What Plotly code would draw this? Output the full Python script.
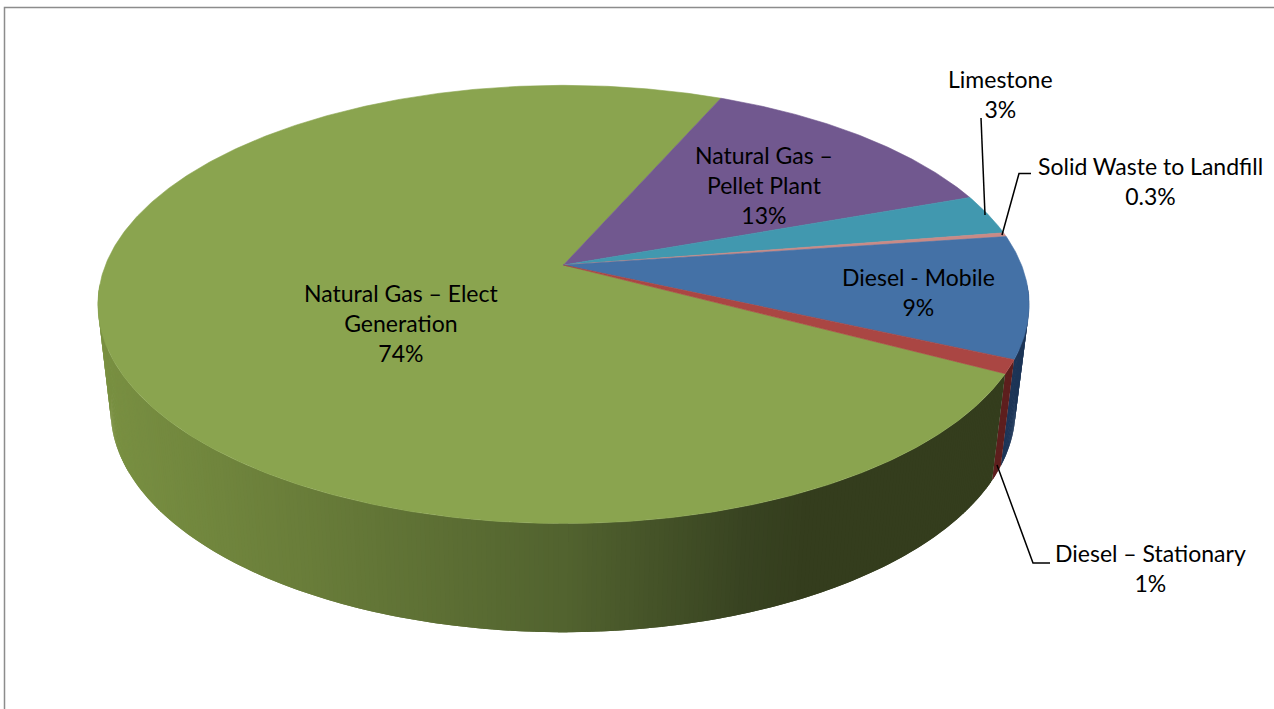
import math
import plotly.graph_objects as go

# ---- data ----
categories = ["Natural Gas – Elect<br>Generation", "Natural Gas –<br>Pellet Plant", "Limestone",
              "Solid Waste to Landfill", "Diesel - Mobile", "Diesel – Stationary"]
values = [74, 13, 3, 0.3, 9, 1]
value_labels = ["74%", "13%", "3%", "0.3%", "9%", "1%"]

# ---- styles ----
top_colors = ["#8AA44F", "#71588F", "#4198AF", "#C98A86", "#4471A6", "#AA4643"]
side_colors = [None, "#453560", "#275C6A", "#7A5250", "#1D3557", "#5E1F1E"]
green_stops = [(100, (122, 145, 66)), (300, (106, 126, 58)), (560, (82, 99, 47)),
               (740, (56, 67, 33)), (800, (52, 61, 29)), (1100, (52, 61, 29))]
FONT = "Lato"
FS = 23

# ---- perspective cylinder ----
START = 118.0         # first slice boundary, degrees clockwise from the back
K = 0.18
TOP = dict(x0=563.5, y0=265, A=458, B=212)
BOT = dict(x0=563, y0=370, A=445, B=215)


def project(deg, p):
    t = math.radians(deg)
    u, v = math.sin(t), -math.cos(t)
    w = 1 - K * v
    return p["x0"] + p["A"] * u / w, p["y0"] + p["B"] * v / w


def green_at(x):
    for (x1, c1), (x2, c2) in zip(green_stops, green_stops[1:]):
        if x <= x2:
            f = max(0, (x - x1) / (x2 - x1))
            return "rgb(%d,%d,%d)" % tuple(round(a + (b - a) * f) for a, b in zip(c1, c2))
    return "rgb(52,61,29)"


total = sum(values)
bounds = [START]
for val in values:
    bounds.append(bounds[-1] + val / total * 360)

fig = go.Figure()


def poly(xs, ys, color, width=0.6):
    fig.add_trace(go.Scatter(x=xs, y=ys, mode="lines", fill="toself", fillcolor=color,
                             line=dict(color=color, width=width), hoverinfo="skip", showlegend=False))


# sides, back to front; neighbouring quads overlap so no seams show
STEP = 0.5
quads = []
for i in range(len(values)):
    a0, a1 = bounds[i], bounds[i + 1]
    n = max(1, int((a1 - a0) / STEP))
    for j in range(n):
        s0 = a0 + (a1 - a0) * j / n
        s1 = a0 + (a1 - a0) * (j + 1) / n
        if max(project(s0, TOP)[1], project(s1, TOP)[1]) < 285:
            continue
        right_side = math.sin(math.radians(s0)) > 0
        e0 = max(s0 - (0 if right_side else STEP), a0)
        e1 = min(s1 + (STEP if right_side else 0), a1)
        p0, p1 = project(e0, TOP), project(e1, TOP)
        q0, q1 = project(e0, BOT), project(e1, BOT)
        quads.append((-math.cos(math.radians((s0 + s1) / 2)), i, p0, p1, q1, q0))
for _, i, p0, p1, q1, q0 in sorted(quads, key=lambda r: r[0]):
    color = side_colors[i] or green_at((q0[0] + q1[0]) / 2)
    poly([p0[0], p1[0], q1[0], q0[0], p0[0]], [p0[1], p1[1], q1[1], q0[1], p0[1]], color, width=0)

# top faces
for i in range(len(values)):
    a0, a1 = bounds[i], bounds[i + 1]
    n = max(2, int((a1 - a0) / 0.5))
    rim = [project(a0 + (a1 - a0) * j / n, TOP) for j in range(n + 1)]
    xs = [TOP["x0"]] + [r[0] for r in rim] + [TOP["x0"]]
    ys = [TOP["y0"]] + [r[1] for r in rim] + [TOP["y0"]]
    poly(xs, ys, top_colors[i])

# leader lines
leaders = [([981, 985], [118, 215]),
           ([1031, 1019, 1002], [173.5, 173.5, 235]),
           ([997, 1033, 1050], [465, 563, 563])]
for lx, ly in leaders:
    fig.add_trace(go.Scatter(x=lx, y=ly, mode="lines", line=dict(color="#000000", width=1.5),
                             hoverinfo="skip", showlegend=False))

# frame
fig.add_trace(go.Scatter(x=[4.5, 4.5, 1274], y=[709, 7.5, 7.5], mode="lines",
                         line=dict(color="#8C8C8C", width=1.5), hoverinfo="skip", showlegend=False))

# labels
label_pos = [(401, 322.5), (764, 185), (1000, 93.5), (1150, 180.5), (918, 291.5), (1150, 567.5)]
for cat, lab, (lx, ly) in zip(categories, value_labels, label_pos):
    fig.add_annotation(x=lx, y=ly, text=f"{cat}<br>{lab}", showarrow=False, align="center",
                       xanchor="center", yanchor="middle",
                       font=dict(family=FONT, size=FS, color="#000000"))

fig.update_layout(width=1274, height=709, margin=dict(l=0, r=0, t=0, b=0),
                  paper_bgcolor="white", plot_bgcolor="white", showlegend=False,
                  xaxis=dict(range=[0, 1274], visible=False, fixedrange=True),
                  yaxis=dict(range=[709, 0], visible=False, fixedrange=True))
fig.write_html("out.html", config=dict(displayModeBar=False),
               post_script="document.body.style.margin='0';document.body.style.overflow='hidden';")
